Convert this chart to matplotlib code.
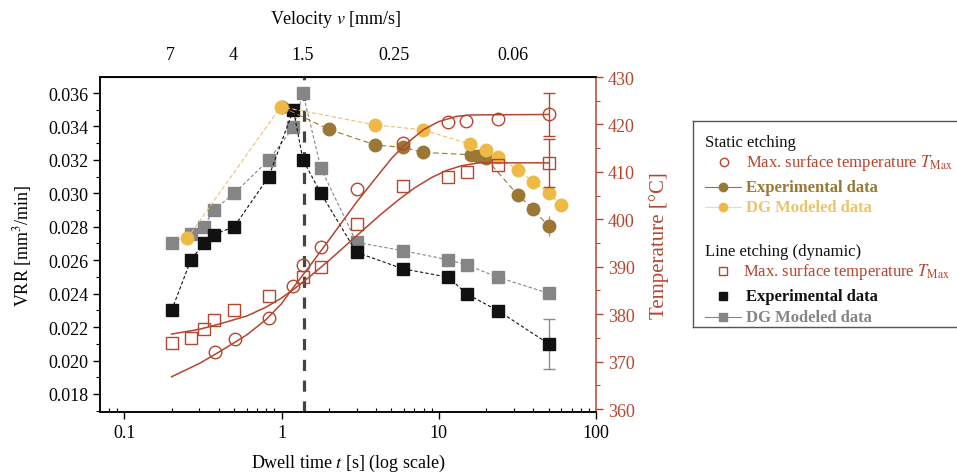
import numpy as np
import matplotlib
matplotlib.use('Agg')
import matplotlib.pyplot as plt
from matplotlib.ticker import FixedLocator, MultipleLocator, NullLocator, LogLocator

plt.rcParams['font.family'] = 'Liberation Serif'
plt.rcParams['mathtext.fontset'] = 'stix'

# ---- data ----
# line etching (dynamic), dwell time [s] vs VRR
line_t = [0.2, 0.265, 0.32, 0.37, 0.5, 0.83, 1.19, 1.37, 1.78, 3.0, 5.9, 11.5, 15.1, 23.8, 50]
line_exp = [0.0230, 0.0260, 0.0270, 0.02753, 0.0280, 0.0310, 0.0350, 0.0320, 0.0300,
            0.02647, 0.02549, 0.02498, 0.02398, 0.02298, 0.0210]
line_dg = [0.0270, 0.02757, 0.0280, 0.0290, 0.0300, 0.0320, 0.03395, 0.0360, 0.0315,
           0.02707, 0.02657, 0.02603, 0.02571, 0.02498, 0.02402]
line_exp_err = 0.0015

# line etching max. surface temperature
line_tmax_t = [0.2, 0.265, 0.32, 0.37, 0.5, 0.83, 1.37, 1.78, 3.0, 5.9, 11.5, 15.1, 23.8, 50]
line_tmax = [373.9, 374.9, 376.9, 378.8, 380.9, 383.8, 387.8, 389.9, 399.0, 407.0,
             409.0, 410.0, 411.4, 411.9]
line_tmax_err = 5.0

# static etching
static_exp_t = [1.0, 2.0, 3.96, 5.93, 7.94, 16.0, 17.8, 19.9, 31.7, 39.8, 50]
static_exp = [0.03518, 0.03383, 0.03289, 0.03275, 0.03245, 0.03231, 0.03221, 0.03209,
              0.02992, 0.02906, 0.02802]
static_exp_err = 0.0006
static_dg_t = [0.251, 0.99, 3.96, 7.94, 15.7, 19.9, 23.8, 31.7, 39.8, 50, 59.7]
static_dg = [0.0273, 0.03518, 0.03409, 0.0338, 0.03295, 0.03259, 0.03219, 0.03141,
             0.0307, 0.0300, 0.02932]

static_tmax_t = [0.377, 0.505, 0.834, 1.19, 1.36, 1.78, 3.0, 5.93, 11.5, 15.0, 23.8, 50]
static_tmax = [372.0, 374.8, 379.2, 386.0, 390.4, 394.1, 406.4, 416.1, 420.5, 420.8, 421.2, 422.1]
static_tmax_err = 4.5

# fitted temperature curves
fit_static_t = [0.2, 0.3, 0.4, 0.6, 0.8, 1.0, 1.2, 1.5, 2.0, 2.5, 3.0, 4.0, 5.0, 6.0,
                8.0, 10, 13, 16, 50]
fit_static = [366.8, 369.6, 372.0, 375.6, 378.9, 382.2, 385.8, 390.0, 395.6, 400.0,
              403.6, 408.8, 412.8, 415.5, 418.9, 420.6, 421.7, 422.0, 422.1]
fit_line_t = [0.2, 0.3, 0.4, 0.6, 0.8, 1.0, 1.2, 1.5, 2.0, 3.0, 4.2, 5.5, 7.0, 9.0,
              11.2, 14, 18, 50]
fit_line = [375.8, 376.8, 377.9, 379.6, 381.5, 383.4, 385.3, 387.8, 391.3, 396.5,
            400.8, 404.0, 406.6, 408.8, 410.3, 411.3, 411.9, 411.9]

dwell_ref = 1.38
vel_pos = [0.195, 0.49, 1.37, 5.2, 29.5]
vel_labels = ['7', '4', '1.5', '0.25', '0.06']

RED = '#b5452e'
BROWN = '#9a7733'
YELLOW = '#efb945'
GRAY = '#858585'
BLACK = '#111111'

fig = plt.figure(figsize=(9.57, 4.77), dpi=100)
ax = fig.add_axes([100 / 957, 1 - 413 / 477, 496 / 957, 335 / 477])
ax2 = ax.twinx()

# VRR series
ax.axvline(dwell_ref, color='#444444', lw=2.3, dashes=(3.5, 3), zorder=1)
ax.errorbar(line_t[-1], line_exp[-1], yerr=line_exp_err, color='#8c8c8c', lw=1, capsize=4, zorder=2)
ax.errorbar(static_exp_t[-1], static_exp[-1], yerr=static_exp_err, color='#b09a70', lw=1, capsize=0, zorder=2)
ax.plot(line_t, line_dg, color=GRAY, lw=0.8, ls=(0, (3, 2)), marker='s', ms=8,
        mfc=GRAY, mec=GRAY, zorder=3)
ax.plot(line_t, line_exp, color=BLACK, lw=0.8, ls=(0, (3, 2)), marker='s', ms=8,
        mfc=BLACK, mec=BLACK, zorder=4)
ax.plot(static_exp_t, static_exp, color=BROWN, lw=0.8, ls=(0, (5, 3)), marker='o', ms=9,
        mfc=BROWN, mec=BROWN, zorder=5)
ax.plot(static_dg_t, static_dg, color='#e8c27a', lw=0.8, ls=(0, (4, 2)), marker='o', ms=9,
        mfc=YELLOW, mec=YELLOW, zorder=6)

# temperature series
ax2.plot(fit_static_t, fit_static, color=RED, lw=1.1, zorder=2)
ax2.plot(fit_line_t, fit_line, color=RED, lw=1.1, zorder=2)
ax2.errorbar(static_tmax_t[-1], static_tmax[-1], yerr=static_tmax_err, color=RED, lw=1, capsize=4, zorder=3)
ax2.errorbar(line_tmax_t[-1], line_tmax[-1], yerr=line_tmax_err, color=RED, lw=1, capsize=4, zorder=3)
ax2.plot(static_tmax_t, static_tmax, ls='none', marker='o', ms=9, mfc='none', mec=RED, mew=1, zorder=4)
ax2.plot(line_tmax_t, line_tmax, ls='none', marker='s', ms=8, mfc='none', mec=RED, mew=1, zorder=4)

# axes
ax.set_xscale('log')
ax.set_xlim(0.0701, 100)
ax.set_ylim(0.01692, 0.03696)
ax2.set_ylim(359.37, 430)

ax.xaxis.set_major_locator(FixedLocator([0.1, 1, 10, 100]))
ax.set_xticklabels(['0.1', '1', '10', '100'])
ax.xaxis.set_minor_locator(LogLocator(base=10, subs=np.arange(2, 10)))
ax.xaxis.set_minor_formatter(plt.NullFormatter())
ax.set_yticks(np.arange(0.018, 0.03601, 0.002))
ax.set_yticklabels(['%.3f' % v for v in np.arange(0.018, 0.03601, 0.002)])
ax.yaxis.set_minor_locator(MultipleLocator(0.001))
ax2.set_yticks(np.arange(360, 431, 10))
ax2.yaxis.set_minor_locator(MultipleLocator(5))

ax.tick_params(axis='both', which='major', labelsize=13, length=5, width=1, direction='out')
ax.tick_params(axis='x', which='minor', length=3, width=0.8, direction='in')
ax.tick_params(axis='y', which='minor', length=3, width=0.8, direction='out')
ax2.tick_params(axis='y', which='major', labelsize=13, length=5, width=1, colors=RED)
ax2.tick_params(axis='y', which='minor', length=3, width=0.8, colors=RED)

for s in ['left', 'bottom', 'top']:
    ax.spines[s].set_linewidth(1.1)
    ax2.spines[s].set_linewidth(1.1)
ax2.spines['right'].set_color(RED)
ax2.spines['right'].set_linewidth(1.1)
ax.spines['right'].set_visible(False)

ax.set_xlabel('Dwell time $t$ [s] (log scale)', fontsize=13, labelpad=8)
ax.set_ylabel('VRR [mm$^3$/min]', fontsize=13, labelpad=10)
ax2.set_ylabel('Temperature [°C]', fontsize=15, color=RED, labelpad=10)

secax = ax.secondary_xaxis('top')
secax.xaxis.set_major_locator(FixedLocator(vel_pos))
secax.set_xticklabels(vel_labels)
secax.xaxis.set_minor_locator(NullLocator())
secax.tick_params(length=0, pad=10, labelsize=13)
fig.text(336 / 957, 1 - 19 / 477, 'Velocity $v$ [mm/s]', fontsize=13, ha='center', va='center')

# legend panel drawn in figure pixel coordinates
lax = fig.add_axes([693 / 957, 1 - 328.3 / 477, 300 / 957, 206.6 / 477])
lax.set_xlim(693, 993)
lax.set_ylim(328.3, 121.7)
lax.set_xticks([])
lax.set_yticks([])
for s in lax.spines.values():
    s.set_color('#555555')
    s.set_linewidth(1)

fs = 12
lax.text(705, 142.7, 'Static etching', fontsize=fs, va='center', color=BLACK)
lax.plot([724], [162.7], marker='o', ms=6, mfc='none', mec=RED, mew=1)
lax.text(746, 162.7, 'Max. surface temperature $T_{\\mathrm{Max}}$', fontsize=fs, va='center', color=RED)
lax.plot([705, 741], [188.3, 188.3], color=BROWN, lw=0.8)
lax.plot([723], [188.3], marker='o', ms=6, color=BROWN)
lax.text(746, 188.3, 'Experimental data', fontsize=fs, va='center', color=BROWN, fontweight='bold')
lax.plot([705, 741], [208.3, 208.3], color='#f3d9a0', lw=0.8)
lax.plot([723], [208.3], marker='o', ms=6, color=YELLOW)
lax.text(746, 208.3, 'DG Modeled data', fontsize=fs, va='center', color='#ecc36a', fontweight='bold')

lax.text(705, 251.7, 'Line etching (dynamic)', fontsize=fs, va='center', color=BLACK)
lax.plot([723], [271.7], marker='s', ms=5.5, mfc='none', mec=RED, mew=1)
lax.text(743, 271.7, 'Max. surface temperature $T_{\\mathrm{Max}}$', fontsize=fs, va='center', color=RED)
lax.plot([723], [296.7], marker='s', ms=5.5, color=BLACK)
lax.text(746, 296.7, 'Experimental data', fontsize=fs, va='center', color=BLACK, fontweight='bold')
lax.plot([705, 741], [318.3, 318.3], color=GRAY, lw=0.8)
lax.plot([723], [318.3], marker='s', ms=5.5, color=GRAY)
lax.text(746, 318.3, 'DG Modeled data', fontsize=fs, va='center', color=GRAY, fontweight='bold')

fig.savefig('out.png', dpi=100)
